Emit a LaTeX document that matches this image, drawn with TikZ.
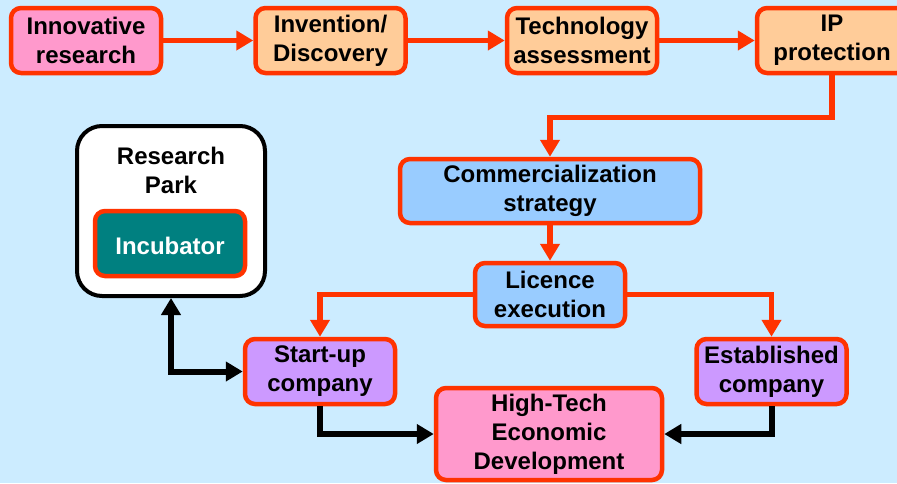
\documentclass[tikz,border=0pt]{standalone}
\usepackage{fontspec}
\setmainfont{Liberation Sans}
\usetikzlibrary{arrows.meta,calc}
\definecolor{bgc}{HTML}{CCECFF}
\definecolor{redc}{HTML}{FF3300}
\definecolor{pinkc}{HTML}{FF99CC}
\definecolor{orangec}{HTML}{FFCC99}
\definecolor{bluec}{HTML}{99CCFF}
\definecolor{purplec}{HTML}{CC99FF}
\definecolor{tealc}{HTML}{008080}
\tikzset{
  box/.style={draw=redc, line width=4.5pt, rounded corners=10pt, inner sep=0pt,
    align=center, minimum width=150pt, minimum height=65pt,
    font=\bfseries\fontsize{24}{29}\selectfont, text=black,
    execute at begin node={\rule{0pt}{21.5pt}}},
  redarrow/.style={draw=redc, line width=5.5pt, -{Triangle[length=17pt,width=19pt]}},
  blackarrow/.style={draw=black, line width=6pt, -{Triangle[length=17pt,width=19pt]}},
  blackdouble/.style={draw=black, line width=6pt, {Triangle[length=17pt,width=19pt]}-{Triangle[length=17pt,width=19pt]}},
}
\begin{document}
\begin{tikzpicture}[x=1pt,y=-1pt]
\fill[bgc] (0,0) rectangle (897,483);
\useasboundingbox (0,0) rectangle (897,483);
% top row
\node[box, fill=pinkc] (inn) at (86,40.5) {Innovative\\research};
\node[box, fill=orangec] (inv) at (330.5,40.5) {Invention/\\Discovery};
\node[box, fill=orangec] (tech) at (582,40.5) {Technology\\assessment};
\node[box, fill=orangec] (ip) at (832,40.5) {IP\\protection};
% middle
\node[box, fill=bluec, minimum width=300pt, minimum height=64pt] (com) at (550,191) {Commercialization\\strategy};
\node[box, fill=bluec, minimum height=63pt] (lic) at (550,294.5) {Licence\\execution};
% research park
\node[draw=black, line width=4pt, fill=white, rounded corners=25pt, minimum width=188pt, minimum height=170pt, inner sep=0pt] (park) at (171,211) {};
\node[font=\bfseries\fontsize{24}{29}\selectfont, align=center, inner sep=0pt] (parklabel) at (171,170) {Research\\Park};
\node[box, fill=tealc, text=white] (inc) at (170,243.5) {Incubator};
% companies
\node[box, fill=purplec] (st) at (320,371.5) {Start-up\\company};
\node[box, fill=purplec] (est) at (771.5,371.5) {Established\\company};
\node[box, fill=pinkc, minimum width=226pt, minimum height=92pt] (ht) at (549,434) {High-Tech\\Economic\\Development};
% red arrows
\draw[redarrow] (inn.east) -- (inv.west);
\draw[redarrow] (inv.east) -- (tech.west);
\draw[redarrow] (tech.east) -- (ip.west);
\draw[redarrow] (ip.south) -- ++(0,42) -| (com.north);
\draw[redarrow] (com.south) -- (lic.north);
\draw[redarrow] (lic.west) -| (st.north);
\draw[redarrow] (lic.east) -| (est.north);
% black arrows
\draw[blackarrow] (st.south) |- (ht.west);
\draw[blackarrow] (est.south) |- (ht.east);
\draw[blackdouble] (park.south) |- (st.west);
\end{tikzpicture}
\end{document}
